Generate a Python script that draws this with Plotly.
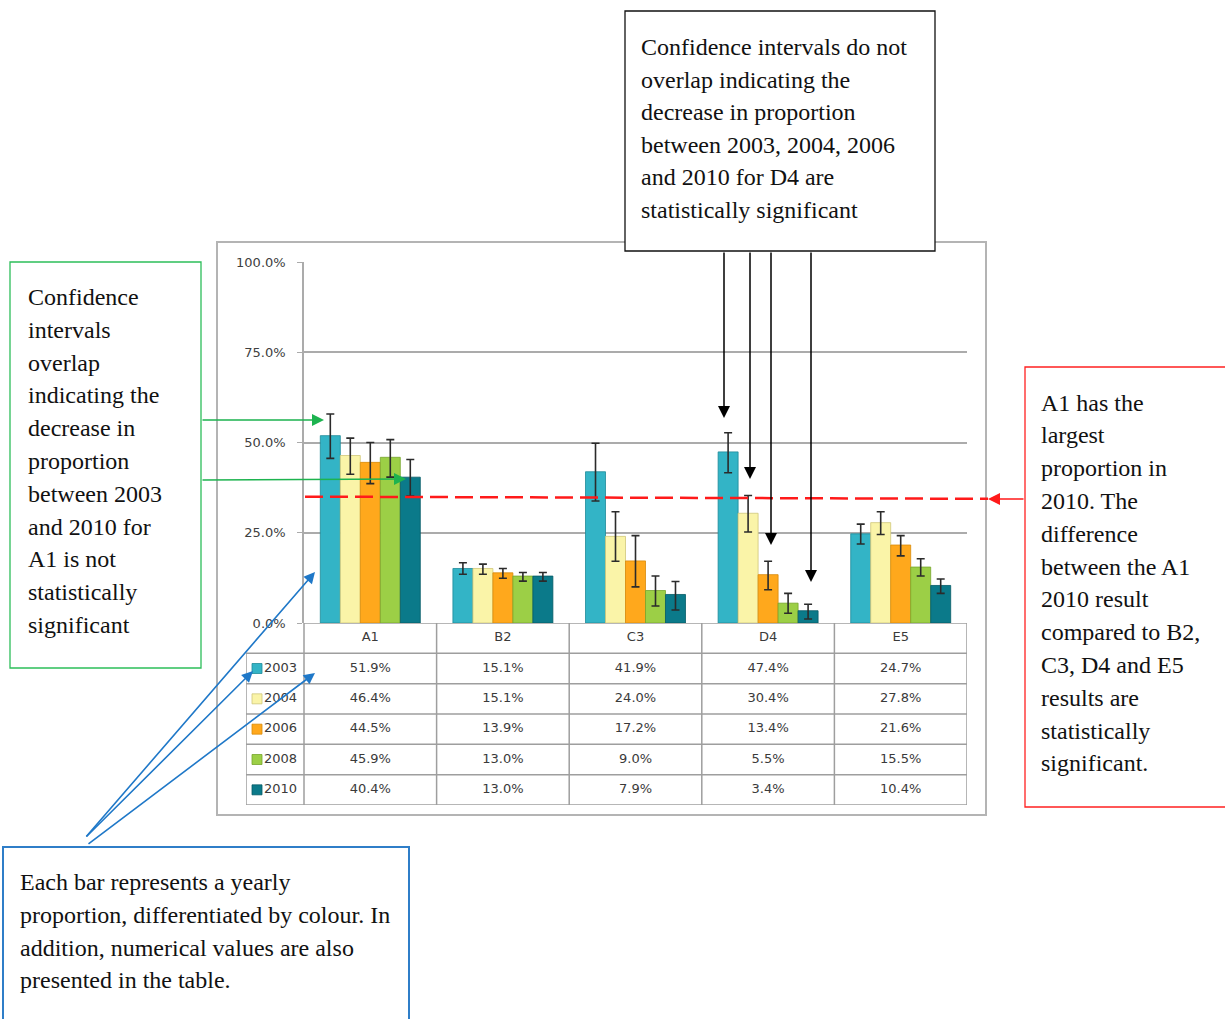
import plotly.graph_objects as go

W, H = 1225, 1019

# ---------------- data ----------------
categories = ["A1", "B2", "C3", "D4", "E5"]
years = ["2003", "2004", "2006", "2008", "2010"]

values_2003 = [51.9, 15.1, 41.9, 47.4, 24.7]
values_2004 = [46.4, 15.1, 24.0, 30.4, 27.8]
values_2006 = [44.5, 13.9, 17.2, 13.4, 21.6]
values_2008 = [45.9, 13.0, 9.0, 5.5, 15.5]
values_2010 = [40.4, 13.0, 7.9, 3.4, 10.4]

upper_2003 = [57.9, 16.7, 49.8, 52.7, 27.4]
lower_2003 = [45.6, 13.5, 33.8, 41.6, 21.9]
upper_2004 = [51.2, 16.3, 30.8, 35.3, 30.8]
lower_2004 = [41.2, 13.5, 17.1, 25.2, 24.5]
upper_2006 = [50.0, 15.1, 24.2, 17.1, 24.2]
lower_2006 = [38.6, 12.4, 10.0, 9.2, 18.6]
upper_2008 = [50.8, 14.0, 13.0, 8.2, 17.8]
lower_2008 = [40.4, 11.6, 4.7, 2.7, 13.0]
upper_2010 = [45.3, 14.0, 11.5, 5.2, 12.2]
lower_2010 = [35.2, 11.6, 3.6, 1.1, 8.2]

ytick_vals = [0, 25, 50, 75, 100]
ytick_text = ["0.0%", "25.0%", "50.0%", "75.0%", "100.0%"]
reference_level = 35.0  # A1 2010 lower CI reference line

top_box_lines = [
    "Confidence intervals do not",
    "overlap indicating the",
    "decrease in proportion",
    "between 2003, 2004, 2006",
    "and 2010 for D4 are",
    "statistically significant",
]
green_box_lines = [
    "Confidence", "intervals", "overlap", "indicating the", "decrease in",
    "proportion", "between 2003", "and 2010 for", "A1 is not",
    "statistically", "significant",
]
red_box_lines = [
    "A1 has the", "largest", "proportion in", "2010. The", "difference",
    "between the A1", "2010 result", "compared to B2,", "C3, D4 and E5",
    "results are", "statistically", "significant.",
]
blue_box_lines = [
    "Each bar represents a yearly",
    "proportion, differentiated by colour. In",
    "addition, numerical values are also",
    "presented in the table.",
]

series_values = [values_2003, values_2004, values_2006, values_2008, values_2010]
series_upper = [upper_2003, upper_2004, upper_2006, upper_2008, upper_2010]
series_lower = [lower_2003, lower_2004, lower_2006, lower_2008, lower_2010]
colors = ["#33B4C6", "#FAF4A8", "#FFA81C", "#9CCF46", "#0B7A8A"]
edge_colors = ["#1E8A99", "#CFC77A", "#D88A0A", "#76A52C", "#055A66"]


def px(x):
    return x / W


def py(y):
    return 1 - y / H


fig = go.Figure()

# ---------------- bars ----------------
for yr, vals, up, lo, col, ec in zip(years, series_values, series_upper,
                                     series_lower, colors, edge_colors):
    fig.add_trace(go.Bar(
        x=categories, y=vals, name=yr,
        marker=dict(color=col, line=dict(color=ec, width=0.8)),
        error_y=dict(type="data", symmetric=False,
                     array=[u - v for u, v in zip(up, vals)],
                     arrayminus=[v - l for v, l in zip(vals, lo)],
                     color="#2b2b2b", thickness=1.6, width=4),
        xaxis="x", yaxis="y", showlegend=False,
    ))

# ---------------- data table (own axes) ----------------
plot_left, plot_right, table_left = 304, 967, 246
cat_w = (plot_right - plot_left) / len(categories)
leg_w = (plot_left - table_left) / cat_w
n_rows = len(years)

tbl_font = dict(family="DejaVu Sans", size=13, color="#3a3a3a")

# header labels
fig.add_trace(go.Scatter(
    x=list(range(len(categories))), y=[0] * len(categories),
    text=categories, mode="text", textfont=tbl_font,
    xaxis="x2", yaxis="y2", showlegend=False, hoverinfo="skip"))

# values
tx, ty, tt = [], [], []
for r, vals in enumerate(series_values, start=1):
    for i, v in enumerate(vals):
        tx.append(i)
        ty.append(r)
        tt.append(f"{v:.1f}%")
fig.add_trace(go.Scatter(
    x=tx, y=ty, text=tt, mode="text", textfont=tbl_font,
    xaxis="x2", yaxis="y2", showlegend=False, hoverinfo="skip"))

# legend keys
fig.add_trace(go.Scatter(
    x=[-0.5 - 47 / cat_w] * n_rows, y=list(range(1, n_rows + 1)),
    mode="markers",
    marker=dict(symbol="square", size=10, color=colors,
                line=dict(color=edge_colors, width=0.8)),
    xaxis="x2", yaxis="y2", showlegend=False, hoverinfo="skip"))
fig.add_trace(go.Scatter(
    x=[-0.5 - 40 / cat_w] * n_rows, y=list(range(1, n_rows + 1)),
    text=years, mode="text", textposition="middle right", textfont=tbl_font,
    xaxis="x2", yaxis="y2", showlegend=False, hoverinfo="skip"))

shapes = []
line_style = dict(color="#9E9E9E", width=1.5)
# horizontal table lines
for k in range(n_rows + 2):
    y = k - 0.5
    x0 = -0.5 if k == 0 else -0.5 - leg_w
    shapes.append(dict(type="line", xref="x2", yref="y2", x0=x0, x1=len(categories) - 0.5,
                       y0=y, y1=y, line=line_style, layer="below"))
# vertical table lines
for i in range(len(categories) + 1):
    x = i - 0.5
    shapes.append(dict(type="line", xref="x2", yref="y2", x0=x, x1=x,
                       y0=-0.5, y1=n_rows + 0.5, line=line_style, layer="below"))
shapes.append(dict(type="line", xref="x2", yref="y2", x0=-0.5 - leg_w, x1=-0.5 - leg_w,
                   y0=0.5, y1=n_rows + 0.5, line=line_style, layer="below"))

# chart frame
shapes.append(dict(type="rect", xref="paper", yref="paper",
                   x0=px(217), x1=px(986), y0=py(815), y1=py(242),
                   line=dict(color="#B4B4B4", width=2), layer="below"))

# red dashed reference line (at the A1 2010 lower CI level)
shapes.append(dict(type="line", xref="paper", yref="y",
                   x0=px(305), x1=px(988), y0=reference_level, y1=reference_level - 0.6,
                   line=dict(color="#FF1A1A", width=2.5, dash="18px,7px"), layer="above"))

# annotation boxes
def box(x0, y0, x1, y1, color, width):
    shapes.append(dict(type="rect", xref="paper", yref="paper",
                       x0=px(x0), x1=px(x1), y0=py(y1), y1=py(y0),
                       line=dict(color=color, width=width), fillcolor="white",
                       layer="above"))


box(625, 11, 935, 251, "#111111", 1.3)
box(10, 262, 201, 668, "#2DBE5A", 1.3)
box(1025, 367, 1232, 807, "#FF2020", 1.3)
box(3, 847, 409, 1030, "#2F7EC8", 2.0)

annotations = []
serif = dict(family="Liberation Serif", size=24, color="#111111")


def text_lines(lines, x_left, first_baseline, spacing):
    for j, s in enumerate(lines):
        annotations.append(dict(
            text=s, xref="paper", yref="paper",
            x=px(x_left - 2), y=py(first_baseline + j * spacing - 8),
            xanchor="left", yanchor="middle", showarrow=False, font=serif))


text_lines(top_box_lines, 641, 55, 32.6)
text_lines(green_box_lines, 28, 305, 32.8)
text_lines(red_box_lines, 1041, 410.5, 32.8)
text_lines(blue_box_lines, 20, 890, 32.8)


def arrow(tail, tip, color, width=1.5, size=1.6):
    annotations.append(dict(
        text="", xref="paper", yref="paper", x=px(tip[0]), y=py(tip[1]),
        ax=tail[0] - tip[0], ay=tail[1] - tip[1], axref="pixel", ayref="pixel",
        showarrow=True, arrowhead=2, arrowsize=size, arrowwidth=width,
        arrowcolor=color, standoff=0, startstandoff=0))


for xa, yt in [(724, 418), (750, 479), (771, 545), (811, 582)]:
    arrow((xa, 251), (xa, yt), "#000000")
arrow((201, 420), (324, 420), "#1DB34F")
arrow((201, 480), (406, 479), "#1DB34F")
arrow((1025, 499), (988, 499), "#FF1A1A")
arrow((85, 838), (315, 572), "#1F78C8", 1.6, 1.4)
arrow((85, 838), (253, 671), "#1F78C8", 1.6, 1.4)
arrow((87, 845), (315, 673), "#1F78C8", 1.6, 1.4)

fig.update_layout(
    width=W, height=H,
    margin=dict(l=0, r=0, t=0, b=0, pad=0, autoexpand=False),
    paper_bgcolor="white", plot_bgcolor="rgba(0,0,0,0)",
    barmode="group", bargap=0.246, bargroupgap=0,
    showlegend=False,
    xaxis=dict(domain=[px(plot_left), px(plot_right)], anchor="y",
               type="category", categoryorder="array", categoryarray=categories,
               range=[-0.5, len(categories) - 0.5], automargin=False,
               showticklabels=False, showgrid=False, zeroline=False,
               showline=False, ticks=""),
    yaxis=dict(domain=[py(623), py(262)], anchor="x", range=[0, 100],
               automargin=False,
               tickmode="array", tickvals=ytick_vals, ticktext=ytick_text,
               showgrid=True, gridcolor="#ABABAB", gridwidth=1.5,
               showline=True, linecolor="#ABABAB", linewidth=1.5,
               ticks="outside", ticklen=5, tickcolor="#ABABAB",
               ticklabelstandoff=9,
               tickfont=dict(family="DejaVu Sans", size=13, color="#404040"),
               zeroline=False),
    xaxis2=dict(domain=[px(table_left), px(plot_right)], anchor="y2", automargin=False,
                range=[-0.5 - leg_w, len(categories) - 0.5], visible=False),
    yaxis2=dict(domain=[py(805), py(623)], anchor="x2", automargin=False,
                range=[n_rows + 0.5, -0.5], visible=False),
    shapes=shapes,
    annotations=annotations,
)

fig.write_html("out.html", config={"displayModeBar": False},
               post_script="document.body.style.margin='0';document.body.style.overflow='hidden';")
